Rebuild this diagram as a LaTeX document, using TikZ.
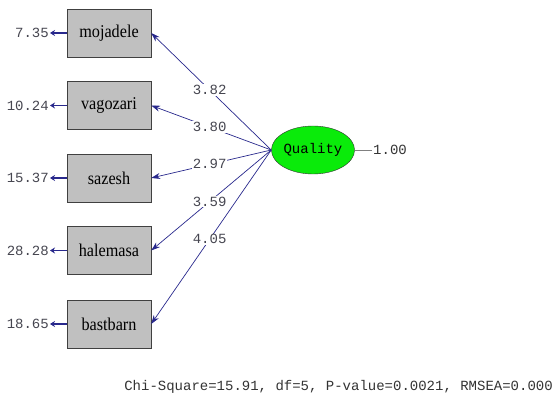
\documentclass[tikz,border=0pt]{standalone}
\usepackage{fontspec}
\setmainfont{Liberation Serif}
\newfontfamily\boxfont[FakeStretch=0.9]{Liberation Serif}
\newfontfamily\monofont{Liberation Mono}
\usetikzlibrary{shapes.geometric,arrows.meta}
\definecolor{arrowblue}{RGB}{40,40,140}
\definecolor{numgray}{RGB}{70,70,80}
\definecolor{boxgray}{RGB}{192,192,192}
\definecolor{latgreen}{RGB}{10,235,10}
\tikzset{
  obs/.style={draw=black!75, fill=boxgray, minimum width=84pt, minimum height=48pt, inner sep=0pt, font=\boxfont\fontsize{18}{20}\selectfont},
  lat/.style={ellipse, draw=black!80, fill=latgreen, minimum width=83pt, minimum height=48pt, inner sep=0pt, font=\monofont\fontsize{14}{16}\selectfont},
  errlab/.style={anchor=east, inner sep=1pt, text=numgray, font=\monofont\fontsize{14}{16}\selectfont},
  errarrow/.style={draw=arrowblue, line width=1.6pt, -{Stealth[length=5pt,width=6pt]}},
  load/.style={draw=arrowblue, line width=0.7pt, -{Stealth[length=9pt,width=6pt]}},
  loadlab/.style={fill=white, inner sep=1pt, text=numgray, font=\monofont\fontsize{14}{16}\selectfont, pos=0.513},
  mono/.style={text=numgray, font=\monofont\fontsize{14}{16}\selectfont}
}
\begin{document}
\begin{tikzpicture}[x=1pt,y=-1pt]
\useasboundingbox (0,0) rectangle (557,403);
\node[obs] (b1) at (109,33) {mojadele};
\node[obs] (b2) at (109,105.5) {vagozari};
\node[obs] (b3) at (109,178) {sazesh};
\node[obs] (b4) at (109,250.5) {halemasa};
\node[obs] (b5) at (109,324) {bastbarn};
\node[lat] (q) at (313,150) {Quality};
\node[errlab] (e1) at (50,33) {7.35};
\node[errlab] (e2) at (50,105.5) {10.24};
\node[errlab] (e3) at (50,178) {15.37};
\node[errlab] (e4) at (50,250.5) {28.28};
\node[errlab] (e5) at (50,324) {18.65};
\foreach \i in {1,...,5} {\draw[errarrow] (b\i.west) -- (e\i.east);}
\draw[load] (q.west) -- node[loadlab] {3.82} (b1.east);
\draw[load] (q.west) -- node[loadlab] {3.80} (b2.east);
\draw[load] (q.west) -- node[loadlab] {2.97} (b3.east);
\draw[load] (q.west) -- node[loadlab] {3.59} (b4.east);
\draw[load] (q.west) -- node[loadlab] {4.05} (b5.east);
\coordinate (qe) at (372,150);
\draw[black!50, line width=0.6pt] (q.east) -- (qe);
\node[mono, anchor=west, inner sep=1pt, text=black!80] (v) at (qe) {1.00};
\node[mono, anchor=base east, inner sep=0pt, text=black!80] (chi) at (553,390) {Chi-Square=15.91, df=5, P-value=0.0021, RMSEA=0.000};
\end{tikzpicture}
\end{document}
